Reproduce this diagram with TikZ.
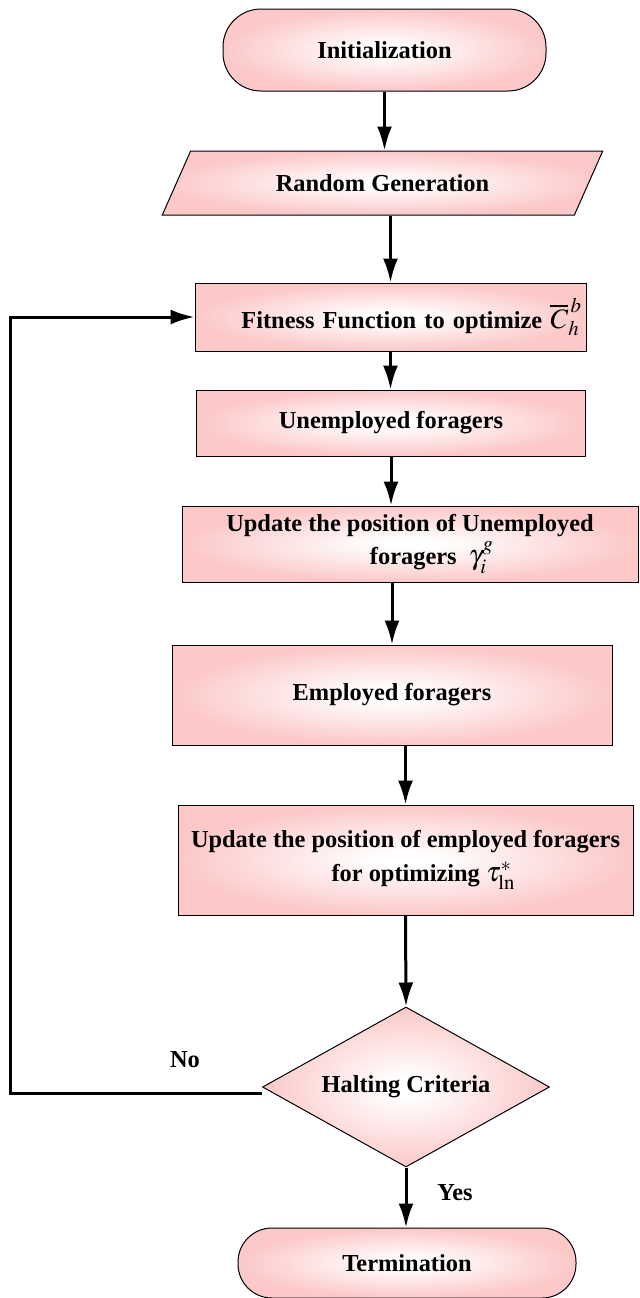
\documentclass[tikz,border=0pt]{standalone}
\usepackage{mathptmx}
\usepackage{fontspec}
\setmainfont{Liberation Serif}
\usepackage{tikz}
\usetikzlibrary{arrows.meta}
\usetikzlibrary{shapes.geometric}
\usetikzlibrary{positioning}
\definecolor{mpink}{RGB}{252,200,200}
\pgfdeclareradialshading{glow}{\pgfpoint{0bp}{0bp}}{color(0bp)=(white); color(3bp)=(white); color(25bp)=(mpink); color(50bp)=(mpink)}
\newcommand{\bigmath}[1]{{\fontsize{14}{16}\selectfont$#1$}}
\tikzset{box/.style = {draw, line width=0.5pt, shading=glow, inner sep=2pt,
                       font=\bfseries\fontsize{12.2}{16}\selectfont, align=center},
         startstop/.style = {box, rounded corners=19pt},
         io/.style = {box, trapezium, trapezium stretches=true,
                      trapezium left angle=57, trapezium right angle=123},
         process/.style = {box},
         decision/.style = {box, diamond, aspect=1.8, inner sep=1pt},
         lbl/.style = {font=\bfseries\fontsize{12.2}{16}\selectfont},
         flow/.style = {line width=1.5pt, -{Latex[length=12pt, width=7.5pt]}}}

\begin{document}
\begin{tikzpicture}[x=0.5pt, y=-0.5pt]
    \useasboundingbox (0, 0) rectangle (639, 1298);

    \node [startstop, minimum width=161.5pt, minimum height=41pt] (init) at (384.5, 50) {Initialization};
    \node [io, minimum width=220.5pt, minimum height=32pt] (rg) at (382.5, 183) {Random Generation};
    \node [process, minimum width=195.5pt, minimum height=34pt, text width=191.5pt, align=right] (fit) at (390.5, 317)
          {Fitness Function to optimize \bigmath{\overline{C}_h^{\,b}}};
    \node [process, minimum width=194.5pt, minimum height=33pt] (unemp) at (391, 423) {Unemployed foragers};
    \node [process, minimum width=228pt, minimum height=38pt, font=\bfseries\fontsize{12.2}{16.5}\selectfont] (upd) at (410, 544)
          {Update the position of Unemployed\\ \hspace{22pt}foragers\ \ \bigmath{\gamma_i^g}};
    \node [process, minimum width=220pt, minimum height=50pt] (emp) at (392, 695) {Employed foragers};
    \node [process, minimum width=227.5pt, minimum height=55pt, font=\bfseries\fontsize{12.2}{17}\selectfont] (upd2) at (405.5, 860)
          {Update the position of employed foragers\\ \hspace{18pt}for optimizing \bigmath{\tau_{\mathrm{ln}}^{*}}};
    \node [decision, minimum width=143.5pt, minimum height=80pt] (halt) at (406, 1087) {Halting Criteria};
    \node [startstop, minimum width=169pt, minimum height=35pt, rounded corners=17pt] (term) at (407, 1263) {Termination};

    \draw [flow] (init.south) -- (init.south |- rg.north);
    \draw [flow] (rg.south -| fit.north) -- (fit.north);
    \draw [flow] (fit.south) -- (fit.south |- unemp.north);
    \draw [flow] (unemp.south) -- (unemp.south |- upd.north);
    \draw [flow] (upd.south -| emp.north) -- (emp.north);
    \draw [flow] (emp.south -| upd2.north) -- (upd2.north);
    \draw [flow] (upd2.south) -- (halt.north);
    \draw [flow] (halt.south) -- (halt.south |- term.north);

    \coordinate (back) at (10, 700);
    \draw [flow] ([yshift=-3pt]halt.west) -| (back) |- (fit.west);

    \node [lbl] (no) at (185, 1060) {No};
    \node [lbl] (yes) at (455, 1193) {Yes};
\end{tikzpicture}
\end{document}
